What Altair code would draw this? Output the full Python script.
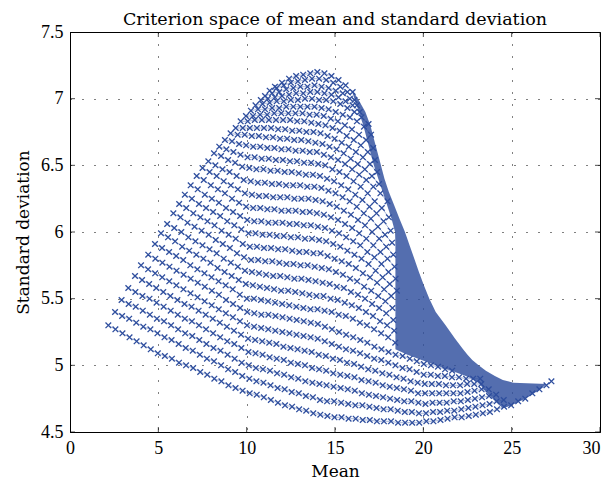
import altair as alt
import pandas as pd

TITLE = "Criterion space of mean and standard deviation"
X_TITLE = "Mean"
Y_TITLE = "Standard deviation"
XTICKS = [0, 5, 10, 15, 20, 25, 30]
YTICKS = [4.5, 5, 5.5, 6, 6.5, 7, 7.5]
BLUE = "#2e4e9e"
FONT = "Liberation Serif"
TEXT_FONT = "DejaVu Serif"

# Each row of the lattice (mean, standard deviation), bottom row first
R00 = [(2.17,5.30),(2.57,5.27),(2.97,5.24),(3.37,5.21),(3.77,5.18),(4.17,5.15),(4.57,5.12),(4.97,5.09),(5.37,5.07),(5.77,5.05),(6.17,5.02),(6.57,5.00),(6.97,4.98),(7.37,4.95),(7.77,4.93),(8.17,4.90),(8.57,4.88),(8.97,4.85),(9.37,4.83),(9.77,4.81),(10.17,4.79),(10.57,4.78),(10.97,4.76),(11.37,4.74),(11.77,4.72),(12.17,4.70),(12.57,4.69),(12.97,4.67),(13.37,4.66),(13.77,4.64),(14.17,4.63),(14.57,4.62),(14.97,4.61),(15.37,4.61),(15.77,4.60),(16.17,4.60),(16.57,4.59),(16.97,4.59),(17.37,4.58),(17.77,4.58),(18.17,4.58),(18.57,4.57),(18.97,4.57),(19.37,4.57),(19.77,4.57),(20.17,4.58),(20.57,4.58),(20.97,4.59),(21.37,4.60),(21.77,4.61),(22.17,4.61),(22.57,4.62),(22.97,4.63),(23.37,4.64),(23.77,4.65),(24.17,4.67),(24.57,4.69),(24.97,4.70),(25.37,4.73),(25.77,4.75),(26.17,4.79),(26.57,4.82),(26.97,4.85),(27.25,4.88)]
R01 = [(2.55,5.40),(2.95,5.37),(3.35,5.35),(3.75,5.32),(4.15,5.29),(4.55,5.27),(4.95,5.24),(5.35,5.21),(5.75,5.19),(6.15,5.16),(6.55,5.13),(6.95,5.11),(7.35,5.08),(7.75,5.05),(8.15,5.03),(8.55,5.00),(8.95,4.97),(9.35,4.95),(9.75,4.92),(10.15,4.90),(10.55,4.88),(10.95,4.87),(11.35,4.85),(11.75,4.83),(12.15,4.82),(12.55,4.80),(12.95,4.79),(13.35,4.77),(13.75,4.76),(14.15,4.74),(14.55,4.73),(14.95,4.73),(15.35,4.72),(15.75,4.71),(16.15,4.70),(16.55,4.70),(16.95,4.69),(17.35,4.68),(17.75,4.67),(18.15,4.67),(18.55,4.66),(18.95,4.65),(19.35,4.65),(19.75,4.64),(20.15,4.64),(20.55,4.65),(20.95,4.65),(21.35,4.66),(21.75,4.66),(22.15,4.67),(22.55,4.68),(22.95,4.69),(23.35,4.70),(23.75,4.71),(24.15,4.73),(24.55,4.74)]
R02 = [(2.92,5.49),(3.32,5.46),(3.72,5.44),(4.12,5.41),(4.52,5.38),(4.92,5.35),(5.32,5.33),(5.72,5.30),(6.12,5.27),(6.52,5.24),(6.92,5.22),(7.32,5.19),(7.72,5.16),(8.12,5.13),(8.52,5.11),(8.92,5.08),(9.32,5.05),(9.72,5.02),(10.12,5.00),(10.52,4.98),(10.92,4.97),(11.32,4.96),(11.72,4.94),(12.12,4.93),(12.52,4.91),(12.92,4.90),(13.32,4.88),(13.72,4.87),(14.12,4.86),(14.52,4.85),(14.92,4.84),(15.32,4.83),(15.72,4.82),(16.12,4.81),(16.52,4.79),(16.92,4.78),(17.32,4.77),(17.72,4.76),(18.12,4.75),(18.52,4.74),(18.92,4.73),(19.32,4.73),(19.72,4.72),(20.12,4.71),(20.52,4.72),(20.92,4.72),(21.32,4.72),(21.72,4.73),(22.12,4.73),(22.52,4.74),(22.92,4.75),(23.32,4.76),(23.72,4.77),(24.12,4.78)]
R03 = [(3.30,5.58),(3.70,5.55),(4.10,5.52),(4.50,5.50),(4.90,5.47),(5.30,5.44),(5.70,5.41),(6.10,5.38),(6.50,5.35),(6.90,5.33),(7.30,5.30),(7.70,5.27),(8.10,5.24),(8.50,5.21),(8.90,5.18),(9.30,5.16),(9.70,5.13),(10.10,5.10),(10.50,5.09),(10.90,5.08),(11.30,5.06),(11.70,5.05),(12.10,5.04),(12.50,5.02),(12.90,5.01),(13.30,5.00),(13.70,4.98),(14.10,4.97),(14.50,4.96),(14.90,4.94),(15.30,4.93),(15.70,4.92),(16.10,4.91),(16.50,4.89),(16.90,4.88),(17.30,4.87),(17.70,4.85),(18.10,4.84),(18.50,4.83),(18.90,4.82),(19.30,4.81),(19.70,4.79),(20.10,4.79),(20.50,4.79),(20.90,4.79),(21.30,4.79),(21.70,4.79),(22.10,4.79),(22.50,4.80),(22.90,4.81),(23.30,4.82),(23.70,4.82)]
R04 = [(3.68,5.67),(4.08,5.64),(4.48,5.61),(4.88,5.58),(5.28,5.55),(5.68,5.52),(6.08,5.49),(6.48,5.46),(6.88,5.44),(7.28,5.41),(7.68,5.38),(8.08,5.35),(8.48,5.32),(8.88,5.29),(9.28,5.26),(9.68,5.23),(10.08,5.20),(10.48,5.19),(10.88,5.18),(11.28,5.17),(11.68,5.16),(12.08,5.14),(12.48,5.13),(12.88,5.12),(13.28,5.11),(13.68,5.10),(14.08,5.08),(14.48,5.07),(14.88,5.05),(15.28,5.04),(15.68,5.02),(16.08,5.01),(16.48,4.99),(16.88,4.97),(17.28,4.96),(17.68,4.94),(18.08,4.93),(18.48,4.91),(18.88,4.90),(19.28,4.88),(19.68,4.87),(20.08,4.86),(20.48,4.86),(20.88,4.86),(21.28,4.85),(21.68,4.85),(22.08,4.85),(22.48,4.86),(22.88,4.86),(23.28,4.86)]
R05 = [(4.02,5.75),(4.42,5.72),(4.82,5.69),(5.22,5.66),(5.62,5.63),(6.02,5.60),(6.42,5.57),(6.82,5.54),(7.22,5.51),(7.62,5.48),(8.02,5.45),(8.42,5.42),(8.82,5.39),(9.22,5.36),(9.62,5.33),(10.02,5.30),(10.42,5.29),(10.82,5.28),(11.22,5.27),(11.62,5.26),(12.02,5.25),(12.42,5.24),(12.82,5.23),(13.22,5.22),(13.62,5.21),(14.02,5.20),(14.42,5.18),(14.82,5.16),(15.22,5.14),(15.62,5.12),(16.02,5.11),(16.42,5.09),(16.82,5.07),(17.22,5.05),(17.62,5.04),(18.02,5.02),(18.42,5.00),(18.82,4.98),(19.22,4.97),(19.62,4.95),(20.02,4.93),(20.42,4.93),(20.82,4.92),(21.22,4.92),(21.62,4.91),(22.02,4.91),(22.42,4.90),(22.82,4.90),(23.22,4.90)]
R06 = [(4.43,5.83),(4.83,5.80),(5.23,5.77),(5.63,5.74),(6.03,5.71),(6.43,5.68),(6.83,5.65),(7.23,5.62),(7.63,5.59),(8.03,5.56),(8.43,5.53),(8.83,5.49),(9.23,5.46),(9.63,5.43),(10.03,5.40),(10.43,5.39),(10.83,5.38),(11.23,5.38),(11.63,5.37),(12.03,5.36),(12.43,5.35),(12.83,5.34),(13.23,5.33),(13.63,5.32),(14.03,5.31),(14.43,5.29),(14.83,5.27),(15.23,5.25),(15.63,5.23),(16.03,5.21),(16.43,5.19),(16.83,5.17),(17.23,5.14),(17.63,5.12),(18.03,5.10),(18.43,5.08),(18.83,5.07),(19.23,5.05),(19.63,5.03),(20.03,5.01),(20.43,5.00),(20.83,4.99),(21.23,4.97),(21.63,4.96)]
R07 = [(4.81,5.91),(5.21,5.88),(5.61,5.85),(6.01,5.82),(6.41,5.79),(6.81,5.75),(7.21,5.72),(7.61,5.69),(8.01,5.66),(8.41,5.63),(8.81,5.60),(9.21,5.57),(9.61,5.53),(10.01,5.50),(10.41,5.50),(10.81,5.49),(11.21,5.48),(11.61,5.47),(12.01,5.46),(12.41,5.45),(12.81,5.44),(13.21,5.43),(13.61,5.42),(14.01,5.42),(14.41,5.41),(14.81,5.40),(15.21,5.38),(15.61,5.37),(16.01,5.35),(16.41,5.32),(16.81,5.30),(17.21,5.27),(17.61,5.24),(18.01,5.21),(18.41,5.17)]
R08 = [(5.15,5.99),(5.55,5.96),(5.95,5.93),(6.35,5.89),(6.75,5.86),(7.15,5.83),(7.55,5.80),(7.95,5.77),(8.35,5.73),(8.75,5.70),(9.15,5.67),(9.55,5.64),(9.95,5.61),(10.35,5.60),(10.75,5.59),(11.15,5.58),(11.55,5.57),(11.95,5.56),(12.35,5.56),(12.75,5.55),(13.15,5.54),(13.55,5.53),(13.95,5.52),(14.35,5.52),(14.75,5.50),(15.15,5.49),(15.55,5.47),(15.95,5.45),(16.35,5.43),(16.75,5.40),(17.15,5.37),(17.55,5.33),(17.95,5.30),(18.35,5.26)]
R09 = [(5.50,6.06),(5.90,6.03),(6.30,6.00),(6.70,5.96),(7.10,5.93),(7.50,5.90),(7.90,5.87),(8.30,5.84),(8.70,5.80),(9.10,5.77),(9.50,5.74),(9.90,5.71),(10.30,5.70),(10.70,5.69),(11.10,5.68),(11.50,5.67),(11.90,5.67),(12.30,5.66),(12.70,5.65),(13.10,5.65),(13.50,5.64),(13.90,5.63),(14.30,5.62),(14.70,5.61),(15.10,5.59),(15.50,5.58),(15.90,5.55),(16.30,5.53),(16.70,5.50),(17.10,5.46),(17.50,5.43),(17.90,5.39),(18.30,5.34)]
R10 = [(5.85,6.14),(6.25,6.11),(6.65,6.07),(7.05,6.04),(7.45,6.01),(7.85,5.98),(8.25,5.94),(8.65,5.91),(9.05,5.88),(9.45,5.84),(9.85,5.81),(10.25,5.79),(10.65,5.79),(11.05,5.78),(11.45,5.78),(11.85,5.77),(12.25,5.76),(12.65,5.76),(13.05,5.75),(13.45,5.75),(13.85,5.74),(14.25,5.73),(14.65,5.72),(15.05,5.70),(15.45,5.68),(15.85,5.65),(16.25,5.63),(16.65,5.59),(17.05,5.56),(17.45,5.52),(17.85,5.48),(18.25,5.43)]
R11 = [(6.18,6.21),(6.58,6.18),(6.98,6.14),(7.38,6.11),(7.78,6.08),(8.18,6.05),(8.58,6.01),(8.98,5.98),(9.38,5.95),(9.78,5.91),(10.18,5.89),(10.58,5.89),(10.98,5.88),(11.38,5.88),(11.78,5.87),(12.18,5.87),(12.58,5.86),(12.98,5.85),(13.38,5.85),(13.78,5.84),(14.18,5.84),(14.58,5.82),(14.98,5.80),(15.38,5.78),(15.78,5.76),(16.18,5.73),(16.58,5.69),(16.98,5.66),(17.38,5.62),(17.78,5.57),(18.18,5.52)]
R12 = [(6.50,6.28),(6.90,6.25),(7.30,6.21),(7.70,6.18),(8.10,6.15),(8.50,6.12),(8.90,6.08),(9.30,6.05),(9.70,6.02),(10.10,5.99),(10.50,5.99),(10.90,5.98),(11.30,5.98),(11.70,5.97),(12.10,5.97),(12.50,5.96),(12.90,5.96),(13.30,5.95),(13.70,5.95),(14.10,5.94),(14.50,5.93),(14.90,5.91),(15.30,5.89),(15.70,5.86),(16.10,5.83),(16.50,5.80),(16.90,5.76),(17.30,5.71),(17.70,5.66),(18.10,5.61),(18.50,5.56)]
R13 = [(6.83,6.35),(7.23,6.32),(7.63,6.28),(8.03,6.25),(8.43,6.22),(8.83,6.18),(9.23,6.15),(9.63,6.12),(10.03,6.09),(10.43,6.08),(10.83,6.08),(11.23,6.07),(11.63,6.07),(12.03,6.07),(12.43,6.06),(12.83,6.06),(13.23,6.05),(13.63,6.05),(14.03,6.04),(14.43,6.03),(14.83,6.01),(15.23,5.99),(15.63,5.96),(16.03,5.93),(16.43,5.90),(16.83,5.85),(17.23,5.81),(17.63,5.76),(18.03,5.70),(18.43,5.65)]
R14 = [(7.17,6.42),(7.57,6.39),(7.97,6.35),(8.37,6.32),(8.77,6.29),(9.17,6.25),(9.57,6.22),(9.97,6.19),(10.37,6.18),(10.77,6.18),(11.17,6.17),(11.57,6.17),(11.97,6.16),(12.37,6.16),(12.77,6.16),(13.17,6.15),(13.57,6.15),(13.97,6.14),(14.37,6.13),(14.77,6.11),(15.17,6.09),(15.57,6.06),(15.97,6.03),(16.37,5.99),(16.77,5.95),(17.17,5.90),(17.57,5.85),(17.97,5.80),(18.37,5.74)]
R15 = [(7.50,6.48),(7.90,6.45),(8.30,6.42),(8.70,6.38),(9.10,6.35),(9.50,6.32),(9.90,6.29),(10.30,6.28),(10.70,6.27),(11.10,6.27),(11.50,6.26),(11.90,6.26),(12.30,6.26),(12.70,6.25),(13.10,6.25),(13.50,6.25),(13.90,6.24),(14.30,6.23),(14.70,6.21),(15.10,6.19),(15.50,6.16),(15.90,6.13),(16.30,6.09),(16.70,6.05),(17.10,6.00),(17.50,5.95),(17.90,5.89),(18.30,5.83)]
R16 = [(7.83,6.53),(8.23,6.50),(8.63,6.47),(9.03,6.45),(9.43,6.42),(9.83,6.39),(10.23,6.38),(10.63,6.37),(11.03,6.37),(11.43,6.36),(11.83,6.36),(12.23,6.35),(12.63,6.35),(13.03,6.35),(13.43,6.34),(13.83,6.34),(14.23,6.33),(14.63,6.31),(15.03,6.29),(15.43,6.26),(15.83,6.23),(16.23,6.19),(16.63,6.14),(17.03,6.10),(17.43,6.04),(17.83,5.98),(18.23,5.92)]
R17 = [(8.15,6.59),(8.55,6.57),(8.95,6.54),(9.35,6.52),(9.75,6.49),(10.15,6.48),(10.55,6.47),(10.95,6.47),(11.35,6.46),(11.75,6.46),(12.15,6.45),(12.55,6.45),(12.95,6.44),(13.35,6.43),(13.75,6.43),(14.15,6.42),(14.55,6.40),(14.95,6.38),(15.35,6.35),(15.75,6.32),(16.15,6.28),(16.55,6.24),(16.95,6.19),(17.35,6.14),(17.75,6.08),(18.15,6.01)]
R18 = [(8.45,6.64),(8.85,6.62),(9.25,6.60),(9.65,6.58),(10.05,6.56),(10.45,6.56),(10.85,6.55),(11.25,6.55),(11.65,6.54),(12.05,6.54),(12.45,6.53),(12.85,6.53),(13.25,6.52),(13.65,6.52),(14.05,6.51),(14.45,6.50),(14.85,6.47),(15.25,6.45),(15.65,6.42),(16.05,6.38),(16.45,6.34),(16.85,6.29),(17.25,6.23),(17.65,6.18),(18.05,6.11)]
R19 = [(8.77,6.69),(9.17,6.68),(9.57,6.66),(9.97,6.65),(10.37,6.64),(10.77,6.64),(11.17,6.63),(11.57,6.63),(11.97,6.62),(12.37,6.62),(12.77,6.61),(13.17,6.61),(13.57,6.60),(13.97,6.60),(14.37,6.58),(14.77,6.56),(15.17,6.54),(15.57,6.51),(15.97,6.47),(16.37,6.43),(16.77,6.39),(17.17,6.34),(17.57,6.29),(17.97,6.23)]
R20 = [(9.09,6.74),(9.49,6.73),(9.89,6.73),(10.29,6.72),(10.69,6.72),(11.09,6.71),(11.49,6.71),(11.89,6.70),(12.29,6.70),(12.69,6.69),(13.09,6.69),(13.49,6.68),(13.89,6.67),(14.29,6.66),(14.69,6.64),(15.09,6.62),(15.49,6.59),(15.89,6.55),(16.29,6.51),(16.69,6.47),(17.09,6.42),(17.49,6.36)]
R21 = [(9.38,6.78),(9.78,6.78),(10.18,6.78),(10.58,6.78),(10.98,6.78),(11.38,6.78),(11.78,6.77),(12.18,6.77),(12.58,6.76),(12.98,6.76),(13.38,6.75),(13.78,6.75),(14.18,6.74),(14.58,6.72),(14.98,6.70),(15.38,6.67),(15.78,6.64),(16.18,6.60),(16.58,6.56),(16.98,6.51),(17.38,6.45)]
R22 = [(9.66,6.83),(10.06,6.83),(10.46,6.84),(10.86,6.84),(11.26,6.84),(11.66,6.84),(12.06,6.84),(12.46,6.84),(12.86,6.83),(13.26,6.83),(13.66,6.82),(14.06,6.81),(14.46,6.80),(14.86,6.78),(15.26,6.76),(15.66,6.72),(16.06,6.69),(16.46,6.65),(16.86,6.60),(17.26,6.54)]
R23 = [(9.96,6.87),(10.36,6.87),(10.76,6.88),(11.16,6.88),(11.56,6.89),(11.96,6.89),(12.36,6.89),(12.76,6.89),(13.16,6.89),(13.56,6.88),(13.96,6.88),(14.36,6.87),(14.76,6.85),(15.16,6.83),(15.56,6.80),(15.96,6.77),(16.36,6.73),(16.76,6.69),(17.16,6.63)]
R24 = [(10.24,6.91),(10.64,6.92),(11.04,6.92),(11.44,6.93),(11.84,6.93),(12.24,6.94),(12.64,6.94),(13.04,6.94),(13.44,6.94),(13.84,6.94),(14.24,6.93),(14.64,6.92),(15.04,6.90),(15.44,6.88),(15.84,6.86),(16.24,6.83),(16.64,6.79),(17.04,6.73)]
R25 = [(10.50,6.95),(10.90,6.96),(11.30,6.97),(11.70,6.98),(12.10,6.98),(12.50,6.99),(12.90,6.99),(13.30,7.00),(13.70,7.00),(14.10,6.99),(14.50,6.99),(14.90,6.98),(15.30,6.96),(15.70,6.93),(16.10,6.90),(16.50,6.86),(16.90,6.81)]
R26 = [(10.80,6.99),(11.20,7.00),(11.60,7.01),(12.00,7.02),(12.40,7.03),(12.80,7.04),(13.20,7.04),(13.60,7.05),(14.00,7.05),(14.40,7.04),(14.80,7.03),(15.20,7.01),(15.60,6.98),(16.00,6.95),(16.40,6.90)]
R27 = [(11.04,7.02),(11.44,7.04),(11.84,7.05),(12.24,7.07),(12.64,7.08),(13.04,7.09),(13.44,7.09),(13.84,7.10),(14.24,7.09),(14.64,7.08),(15.04,7.06),(15.44,7.04),(15.84,7.00),(16.24,6.95)]
R28 = [(11.30,7.06),(11.70,7.08),(12.10,7.10),(12.50,7.12),(12.90,7.13),(13.30,7.14),(13.70,7.15),(14.10,7.15),(14.50,7.14),(14.90,7.12),(15.30,7.09),(15.70,7.05),(16.10,6.99)]
R29 = [(11.60,7.09),(12.00,7.12),(12.40,7.15),(12.80,7.17),(13.20,7.18),(13.60,7.19),(14.00,7.20),(14.40,7.19),(14.80,7.17),(15.20,7.14),(15.60,7.10),(16.00,7.05)]

ROWS = [R00, R01, R02, R03, R04, R05, R06, R07, R08, R09, R10, R11, R12, R13, R14,
        R15, R16, R17, R18, R19, R20, R21, R22, R23, R24, R25, R26, R27, R28, R29]

# Solid (overlapping markers) region near the right edge: std level, left mean, right mean
DENSE_STD = [4.68, 4.70, 4.74, 4.78, 4.82, 4.86, 4.87, 4.89, 4.92, 4.96, 5.00, 5.04, 5.08, 5.12,
             5.20, 5.30, 5.40, 5.50, 5.60, 5.70, 5.80, 5.90, 6.00, 6.10, 6.20, 6.30,
             6.40, 6.50, 6.60, 6.70, 6.80, 6.90, 7.00, 7.06]
DENSE_LEFT = [24.5, 24.3, 24.0, 23.7, 23.4, 23.2, 23.1, 22.9, 22.4, 21.6, 20.7, 19.9, 19.1, 18.42,
              18.42, 18.42, 18.42, 18.42, 18.42, 18.42, 18.42, 18.42, 18.4, 18.2, 17.95, 17.7,
              17.45, 17.2, 17.0, 16.8, 16.6, 16.35, 16.1, 15.95]
DENSE_RIGHT = [24.55, 24.97, 25.6, 26.15, 26.6, 27.0, 25.1, 24.5, 24.05, 23.54, 23.13, 22.77, 22.5, 22.25,
               21.8, 21.26, 20.7, 20.34, 20.03, 19.75, 19.49, 19.22, 18.96, 18.65, 18.35, 18.05,
               17.8, 17.6, 17.4, 17.2, 17.0, 16.72, 16.3, 16.0]

pts = pd.DataFrame(
    [(r, k, x, y) for r, row in enumerate(ROWS) for k, (x, y) in enumerate(row)],
    columns=["row", "k", "mean", "std"])
dense = pd.DataFrame({"std": DENSE_STD, "lo": DENSE_LEFT, "hi": DENSE_RIGHT})
xt = pd.DataFrame({"mean": XTICKS})
yt = pd.DataFrame({"std": YTICKS})

xs = alt.Scale(domain=[XTICKS[0], XTICKS[-1]], nice=False, zero=False)
ys = alt.Scale(domain=[YTICKS[0], YTICKS[-1]], nice=False, zero=False)

last_x = str(XTICKS[-1])
XAX = alt.Axis(values=XTICKS, grid=True, gridDash=[1, 11], gridColor="black", gridOpacity=1,
               ticks=False, labelFont=FONT, labelFontSize=18, labelPadding=7, labelColor="black",
               labelAlign={"condition": {"test": "datum.value == " + last_x, "value": "right"},
                           "value": "center"},
               titleFont=TEXT_FONT, titleFontSize=17, titleFontWeight="normal", titleColor="black",
               titlePadding=6, domainColor="black", labelFlush=False)
YAX = alt.Axis(values=YTICKS, grid=True, gridDash=[1, 11], gridColor="black", gridOpacity=1,
               ticks=False, format=".1~f", labelFont=FONT, labelFontSize=18, labelPadding=7,
               labelColor="black", titleFont=TEXT_FONT, titleFontSize=17, titleFontWeight="normal",
               titleColor="black", titlePadding=8, domainColor="black", labelFlush=False)

def X(field):
    return alt.X(field, type="quantitative", scale=xs, axis=XAX, title=X_TITLE)

def Y(field):
    return alt.Y(field, type="quantitative", scale=ys, axis=YAX, title=Y_TITLE)

area = alt.Chart(dense).mark_area(orient="horizontal", color=BLUE, opacity=0.82).encode(
    y=Y("std"), x=X("lo"), x2="hi")

links = alt.Chart(pts).mark_line(color=BLUE, strokeWidth=0.8, opacity=0.5).encode(
    x=X("mean"), y=Y("std"), detail="row:N", order="k:Q")

points = alt.Chart(pts).mark_point(
    shape="M-1,-1L1,1M1,-1L-1,1", filled=False, size=32, strokeWidth=1.3,
    color=BLUE, opacity=1).encode(x=X("mean"), y=Y("std"))

tick_style = dict(size=10, thickness=1, color="black", clip=True)
t_bottom = alt.Chart(xt).mark_tick(orient="vertical", **tick_style).encode(x=X("mean"), y=alt.datum(YTICKS[0]))
t_top = alt.Chart(xt).mark_tick(orient="vertical", **tick_style).encode(x=X("mean"), y=alt.datum(YTICKS[-1]))
t_left = alt.Chart(yt).mark_tick(orient="horizontal", **tick_style).encode(y=Y("std"), x=alt.datum(XTICKS[0]))
t_right = alt.Chart(yt).mark_tick(orient="horizontal", **tick_style).encode(y=Y("std"), x=alt.datum(XTICKS[-1]))

chart = alt.layer(area, links, points, t_bottom, t_top, t_left, t_right).properties(
    width=530, height=400,
    title=alt.TitleParams(TITLE, font=TEXT_FONT, fontSize=17.5, fontWeight="normal", color="black",
                          offset=-5, frame="group"),
    autosize=alt.AutoSizeParams(type="none"),
    padding={"left": 62, "top": 24, "right": 2, "bottom": 50},
    background="white",
).configure_view(stroke="black", strokeWidth=1)

chart.save("out.html", embed_options={"renderer": "svg", "actions": False})
